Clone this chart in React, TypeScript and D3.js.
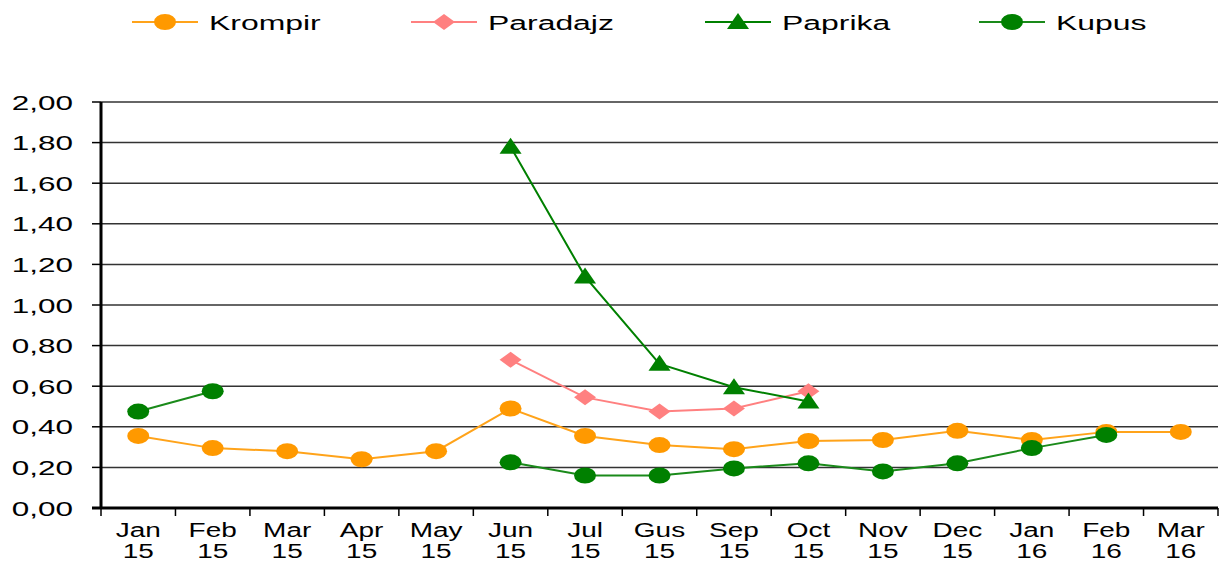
import { useRef, useEffect } from 'react';
import * as d3 from 'd3';

const MONTHS = ['Jan', 'Feb', 'Mar', 'Apr', 'May', 'Jun', 'Jul', 'Gus', 'Sep', 'Oct', 'Nov', 'Dec', 'Jan', 'Feb', 'Mar'];
const YEARS = ['15', '15', '15', '15', '15', '15', '15', '15', '15', '15', '15', '15', '16', '16', '16'];

const krompir = [0.355, 0.295, 0.28, 0.24, 0.28, 0.49, 0.355, 0.31, 0.29, 0.33, 0.335, 0.38, 0.335, 0.375, 0.375];
const paradajz = [null, null, null, null, null, 0.73, 0.545, 0.475, 0.49, 0.575, null, null, null, null, null];
const paprika = [null, null, null, null, null, 1.78, 1.14, 0.71, 0.595, 0.525, null, null, null, null, null];
const kupus = [0.475, 0.575, null, null, null, 0.225, 0.16, 0.16, 0.195, 0.22, 0.18, 0.22, 0.295, 0.36, null];

const Y_TICKS = [0, 0.2, 0.4, 0.6, 0.8, 1.0, 1.2, 1.4, 1.6, 1.8, 2.0];

const SERIES = [
  { name: 'Krompir', values: krompir, color: '#ff9900', line: '#ffa31a', marker: 'circle' },
  { name: 'Paradajz', values: paradajz, color: '#ff8080', line: '#ff8080', marker: 'diamond' },
  { name: 'Paprika', values: paprika, color: '#008000', line: '#008000', marker: 'triangle' },
  { name: 'Kupus', values: kupus, color: '#008000', line: '#1a8a1a', marker: 'circle' },
];

const LEGEND_X = [132, 411, 705, 979];

const W = 1220;
const H = 561;
const M = { left: 101, right: 2, top: 102, bottom: 53 };
const FONT = 'Liberation Sans, Arial, sans-serif';

function drawMarker(g, type, x, y, color) {
  if (type === 'circle') {
    g.append('ellipse').attr('cx', x).attr('cy', y).attr('rx', 11).attr('ry', 8).attr('fill', color);
  } else if (type === 'diamond') {
    g.append('path')
      .attr('d', `M${x - 11},${y} L${x},${y - 8} L${x + 11},${y} L${x},${y + 8} Z`)
      .attr('fill', color);
  } else {
    g.append('path')
      .attr('d', `M${x},${y - 9} L${x + 11},${y + 7} L${x - 11},${y + 7} Z`)
      .attr('fill', color);
  }
}

// text stretched sideways, like the reference
function wideText(g, x, y, str, size, sx, anchor) {
  g.append('text')
    .attr('transform', `translate(${x},${y}) scale(${sx},1)`)
    .attr('text-anchor', anchor)
    .attr('font-family', FONT)
    .attr('font-size', size)
    .attr('fill', '#000')
    .text(str);
}

export default function App() {
  const svgRef = useRef(null);

  useEffect(() => {
    const svg = d3.select(svgRef.current);
    svg.selectAll('*').remove();

    const x = d3.scaleBand().domain(d3.range(MONTHS.length)).range([M.left, W - M.right]);
    const y = d3.scaleLinear().domain([0, 2]).range([H - M.bottom, M.top]);

    // gridlines
    svg.append('g')
      .selectAll('line')
      .data(Y_TICKS.slice(1))
      .join('line')
      .attr('x1', M.left)
      .attr('x2', W - M.right)
      .attr('y1', (d) => y(d))
      .attr('y2', (d) => y(d))
      .attr('stroke', '#333')
      .attr('stroke-width', 1.5);

    // y axis
    const yAxis = svg.append('g');
    yAxis.append('line')
      .attr('x1', M.left)
      .attr('x2', M.left)
      .attr('y1', M.top)
      .attr('y2', H - M.bottom)
      .attr('stroke', '#000')
      .attr('stroke-width', 3);
    Y_TICKS.forEach((t) => {
      yAxis.append('line')
        .attr('x1', M.left - 9)
        .attr('x2', M.left)
        .attr('y1', y(t))
        .attr('y2', y(t))
        .attr('stroke', '#000')
        .attr('stroke-width', 1.5);
      wideText(yAxis, 73, y(t) + 7.5, d3.format('.2f')(t).replace('.', ','), 21, 1.5, 'end');
    });

    // x axis
    const xAxis = svg.append('g').attr('transform', `translate(0,${H - M.bottom})`);
    xAxis.append('line')
      .attr('x1', M.left - 9)
      .attr('x2', W - M.right)
      .attr('stroke', '#000')
      .attr('stroke-width', 3);
    const bounds = d3.range(MONTHS.length + 1).map((i) => (i < MONTHS.length ? x(i) : x(MONTHS.length - 1) + x.bandwidth()));
    xAxis.selectAll('line.tk')
      .data(bounds)
      .join('line')
      .attr('class', 'tk')
      .attr('x1', (d) => d)
      .attr('x2', (d) => d)
      .attr('y1', 0)
      .attr('y2', 8)
      .attr('stroke', '#000')
      .attr('stroke-width', 1.5);
    MONTHS.forEach((m, i) => {
      const cx = x(i) + x.bandwidth() / 2;
      wideText(xAxis, cx, 29, m, 20, 1.4, 'middle');
      wideText(xAxis, cx, 50, YEARS[i], 20, 1.4, 'middle');
    });

    // series
    const line = d3.line()
      .defined((d) => d != null)
      .x((d, i) => x(i) + x.bandwidth() / 2)
      .y((d) => y(d));

    SERIES.forEach((s) => {
      const g = svg.append('g');
      g.append('path')
        .attr('d', line(s.values))
        .attr('fill', 'none')
        .attr('stroke', s.line)
        .attr('stroke-width', 2);
      s.values.forEach((v, i) => {
        if (v == null) return;
        drawMarker(g, s.marker, x(i) + x.bandwidth() / 2, y(v), s.color);
      });
    });

    // legend
    SERIES.forEach((s, i) => {
      const lx = LEGEND_X[i];
      const g = svg.append('g');
      g.append('line')
        .attr('x1', lx)
        .attr('x2', lx + 66)
        .attr('y1', 22)
        .attr('y2', 22)
        .attr('stroke', s.line)
        .attr('stroke-width', 2);
      drawMarker(g, s.marker, lx + 33, 22, s.color);
      wideText(g, lx + 77, 30, s.name, 21, 1.52, 'start');
    });
  }, []);

  return (
    <svg
      ref={svgRef}
      width={W}
      height={H}
      style={{ position: 'absolute', left: 0, top: 0, background: '#fff' }}
    />
  );
}
